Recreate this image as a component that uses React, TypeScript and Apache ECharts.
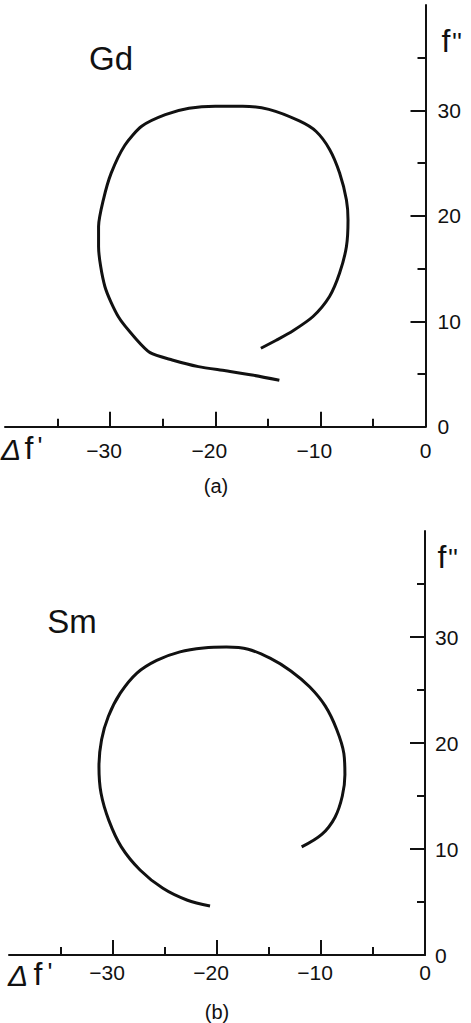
import React, { useEffect, useRef } from "react";
import * as echarts from "echarts";

// Panel (a) Gd: anomalous scattering f' (Δf') vs f''
const gdDeltaF = [-13.9, -16.5, -19.0, -21.6, -24.1, -26.2, -27.6, -29.2, -30.5, -31.1, -31.1, -30.65, -29.9, -28.6, -27.0, -24.75, -22.5, -20.0, -17.4, -14.9, -12.0, -10.4, -9.12, -8.17, -7.52, -7.37, -7.52, -8.17, -9.13, -10.7, -12.6, -14.2, -15.66];
const gdF2 = [4.4, 4.9, 5.3, 5.7, 6.33, 7.03, 8.4, 10.4, 13.3, 17.1, 19.0, 21.5, 24.05, 26.7, 28.5, 29.6, 30.2, 30.4, 30.4, 30.1, 29.0, 28.0, 26.3, 24.06, 21.5, 19.6, 17.1, 14.57, 12.35, 10.45, 9.1, 8.2, 7.44];

// Panel (b) Sm
const smDeltaF = [-20.67, -22.9, -25.2, -27.4, -29.2, -30.4, -31.15, -31.35, -31.1, -30.45, -29.3, -27.7, -25.8, -23.56, -21.3, -19.1, -17.0, -14.9, -12.9, -11.1, -9.6, -8.5, -7.8, -7.7, -7.95, -8.65, -9.9, -11.86];
const smF2 = [4.62, 5.19, 6.29, 8.02, 10.2, 12.7, 15.25, 17.77, 20.3, 22.5, 24.7, 26.6, 27.8, 28.6, 28.96, 29.05, 28.85, 28.0, 26.8, 25.3, 23.5, 21.3, 19.0, 17.0, 15.0, 13.0, 11.4, 10.2];

const xMajorTicks = [-30, -20, -10, 0];
const xMinorTicks = [-35, -25, -15, -5];
const yMajorTicks = [10, 20, 30];
const yLabelTicks = [0, 10, 20, 30];
const yMinorTicks = [5, 15, 25, 35];

const FONT = "'Liberation Sans', Arial, Helvetica, sans-serif";
const INK = "#111";
const TICK_FONT = 21;

export default function App() {
  const ref = useRef<HTMLDivElement>(null);
  useEffect(() => {
    if (!ref.current) return;
    const chart = echarts.init(ref.current, null, { renderer: "svg" });

    const grids = [
      { left: 5, top: 5, width: 420.5, height: 421.7 },
      { left: 9, top: 531, width: 416, height: 424 },
    ];
    const xLabelMargin = [13, 7];
    const yLabelMargin = [12, 10];

    const xAxes: any[] = [];
    const yAxes: any[] = [];
    grids.forEach((_, g) => {
      xAxes.push({
        gridIndex: g,
        type: "value",
        position: "bottom",
        min: -40,
        max: 0,
        splitLine: { show: false },
        axisLine: { show: true, onZero: false, lineStyle: { color: INK, width: 2 } },
        axisTick: { show: true, inside: true, length: 15, customValues: xMajorTicks, lineStyle: { color: INK, width: 2 } },
        axisLabel: {
          show: true,
          customValues: xMajorTicks,
          margin: xLabelMargin[g],
          color: INK,
          fontFamily: FONT,
          fontSize: TICK_FONT,
          formatter: (v: number) => (v < 0 ? `{n|−${-v}}{s| }` : `{n|${v}}`),
          rich: {
            n: { fontFamily: FONT, fontSize: TICK_FONT, color: INK },
            s: { width: 12, fontSize: TICK_FONT },
          },
        },
      });
      xAxes.push({
        gridIndex: g,
        type: "value",
        position: "bottom",
        min: -40,
        max: 0,
        splitLine: { show: false },
        axisLine: { show: false, onZero: false },
        axisTick: { show: true, inside: true, length: 8, customValues: xMinorTicks, lineStyle: { color: INK, width: 2 } },
        axisLabel: { show: false },
      });
      yAxes.push({
        gridIndex: g,
        type: "value",
        position: "right",
        min: 0,
        max: 40,
        splitLine: { show: false },
        axisLine: { show: true, onZero: false, lineStyle: { color: INK, width: 2 } },
        axisTick: { show: true, inside: true, length: 15, customValues: yMajorTicks, lineStyle: { color: INK, width: 2 } },
        axisLabel: {
          show: true,
          customValues: yLabelTicks,
          margin: yLabelMargin[g],
          color: INK,
          fontFamily: FONT,
          fontSize: TICK_FONT,
        },
      });
      yAxes.push({
        gridIndex: g,
        type: "value",
        position: "right",
        min: 0,
        max: 40,
        splitLine: { show: false },
        axisLine: { show: false, onZero: false },
        axisTick: { show: true, inside: true, length: 8, customValues: yMinorTicks, lineStyle: { color: INK, width: 2 } },
        axisLabel: { show: false },
      });
    });

    const mkText = (text: string, x: number, y: number, size: number, extra: any = {}) => ({
      type: "text",
      x,
      y,
      style: {
        text,
        fontFamily: FONT,
        fontSize: size,
        fill: INK,
        align: "center",
        verticalAlign: "middle",
        ...extra,
      },
    });

    const graphics: any[] = [
      mkText("Gd", 111, 58, 33),
      mkText("Sm", 72, 621, 33),
      mkText("(a)", 216, 486, 20),
      mkText("(b)", 217, 1012, 20),
      // Δf' panel (a)
      mkText("Δ", 11, 449, 30, { fontStyle: "italic" }),
      mkText("f", 29, 448, 32),
      mkText("'", 40, 446, 26),
      // f'' panel (a)
      mkText("f", 446, 41, 32),
      mkText("''", 457, 42, 26),
      // Δf' panel (b)
      mkText("Δ", 18, 975, 30, { fontStyle: "italic" }),
      mkText("f", 38, 974, 32),
      mkText("'", 50, 972, 26),
      // f'' panel (b)
      mkText("f", 442, 557, 32),
      mkText("''", 453, 558, 26),
    ];

    chart.setOption({
      animation: false,
      backgroundColor: "#fff",
      grid: grids.map((g) => ({ ...g, containLabel: false })),
      xAxis: xAxes,
      yAxis: yAxes,
      graphic: graphics,
      series: [
        {
          name: "Gd",
          type: "line",
          xAxisIndex: 0,
          yAxisIndex: 0,
          data: gdDeltaF.map((x, i) => [x, gdF2[i]]),
          showSymbol: false,
          smooth: 0.25,
          lineStyle: { color: INK, width: 3 },
        },
        {
          name: "Sm",
          type: "line",
          xAxisIndex: 2,
          yAxisIndex: 2,
          data: smDeltaF.map((x, i) => [x, smF2[i]]),
          showSymbol: false,
          smooth: 0.35,
          lineStyle: { color: INK, width: 3 },
        },
      ],
    });
    return () => chart.dispose();
  }, []);
  return (
    <div
      ref={ref}
      style={{ position: "absolute", left: 0, top: 0, width: 471, height: 1023, background: "#fff" }}
    />
  );
}
